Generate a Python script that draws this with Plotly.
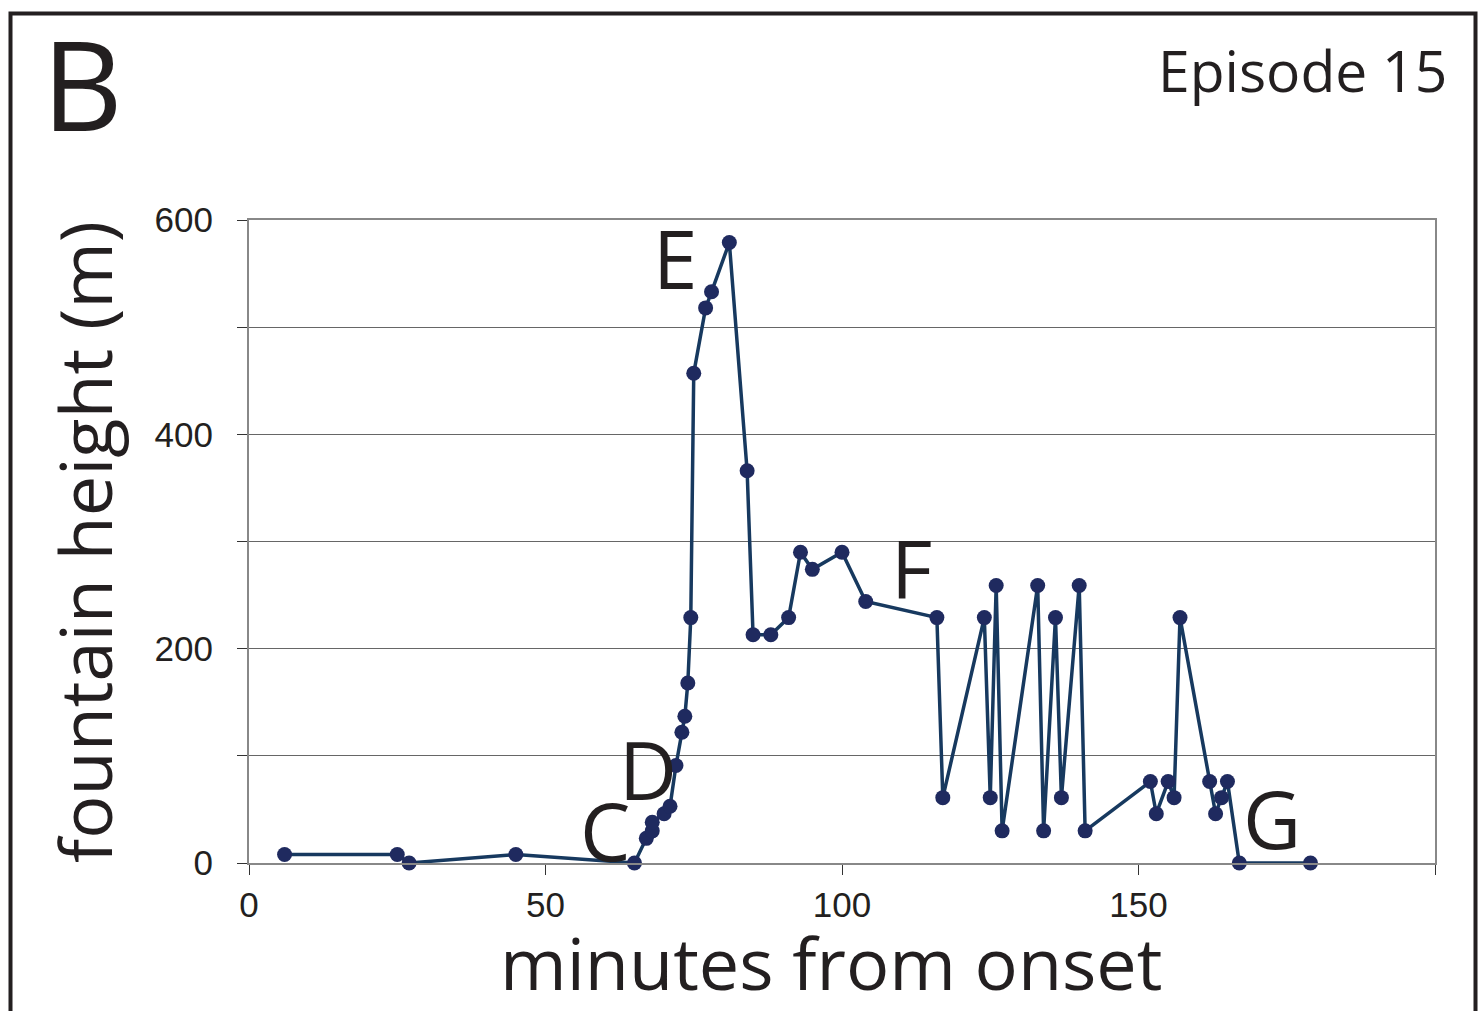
import plotly.graph_objects as go

minutes = [6, 25, 27, 45, 65, 67, 68, 68, 70, 71, 72, 73, 73.5, 74, 74.5, 75, 77, 78, 81,
           84, 85, 88, 91, 93, 95, 100, 104, 116, 117, 124, 125, 126, 127, 133, 134, 136,
           137, 140, 141, 152, 153, 155, 156, 157, 162, 163, 164, 165, 167, 179]
height_m = [8, 8, 0, 8, 0, 23, 30, 38, 46, 53, 91, 122, 137, 168, 229, 457, 518, 533, 579,
            366, 213, 213, 229, 290, 274, 290, 244, 229, 61, 229, 61, 259, 30, 259, 30, 229,
            61, 259, 30, 76, 46, 76, 61, 229, 76, 46, 61, 76, 0, 0]

x_ticks = [0, 50, 100, 150, 200]
x_ticklabels = ["0", "50", "100", "150", ""]
y_ticks = [0, 100, 200, 300, 400, 500, 600]
y_ticklabels = ["0", "", "200", "", "400", "", "600"]

phase_labels = ["C", "D", "E", "F", "G"]
phase_x = [60, 67.3, 71.8, 111.8, 172.5]
phase_y = [31, 88, 565, 276, 42]

# the page's body margin is removed by the post script below
W, H = 1480, 1011
# plot area in page pixels
L, R, T, B = 249, 1435, 220, 863


def px(xp):
    return (xp - L) / (R - L)


def py(yp):
    return (B - yp) / (B - T)


TXT = "#231f20"

fig = go.Figure()
fig.add_trace(go.Scatter(
    x=minutes, y=height_m, mode="lines+markers",
    line=dict(color="#17395f", width=3.5),
    marker=dict(color="#1f2a5f", size=15),
    showlegend=False, cliponaxis=False, hoverinfo="skip",
))

for lab, xv, yv in zip(phase_labels, phase_x, phase_y):
    fig.add_annotation(x=xv, y=yv, xref="x", yref="y", text=lab, showarrow=False,
                       font=dict(family="Open Sans", size=80, color=TXT),
                       xanchor="center", yanchor="middle")

# Panel letter and episode label
fig.add_annotation(x=px(40), y=py(-5), xref="paper", yref="paper", text="B", showarrow=False,
                   font=dict(family="Open Sans", size=125, color=TXT),
                   xanchor="left", yanchor="top")
fig.add_annotation(x=px(1449), y=py(29), xref="paper", yref="paper", text="Episode 15",
                   showarrow=False,
                   font=dict(family="Open Sans", size=57, color=TXT),
                   xanchor="right", yanchor="top")

# Axis titles
fig.add_annotation(x=px(84), y=py(542), xref="paper", yref="paper",
                   text="fountain height (m)", textangle=-90, showarrow=False,
                   font=dict(family="Open Sans", size=72, color=TXT),
                   xanchor="center", yanchor="middle")
fig.add_annotation(x=px(831), y=py(962), xref="paper", yref="paper",
                   text="minutes from onset", showarrow=False,
                   font=dict(family="Open Sans", size=72, color=TXT),
                   xanchor="center", yanchor="middle")

# Outer frame
fig.add_shape(type="rect", xref="paper", yref="paper",
              x0=px(10.5), x1=px(1475.5), y0=py(1040), y1=py(13.5),
              line=dict(color=TXT, width=4), layer="above")

fig.update_layout(
    width=W, height=H,
    margin=dict(l=L, r=W - R, t=T, b=H - B, pad=0),
    paper_bgcolor="white", plot_bgcolor="white",
    xaxis=dict(range=[0, 200], tickvals=x_ticks, ticktext=x_ticklabels,
               showgrid=False, zeroline=False,
               showline=True, linecolor="#888888", linewidth=2, mirror=True,
               ticks="outside", ticklen=10, tickcolor="#333333", tickwidth=1,
               tickfont=dict(family="Liberation Sans", size=35, color=TXT)),
    yaxis=dict(range=[0, 600], tickvals=y_ticks, ticktext=y_ticklabels,
               showgrid=True, gridcolor="#666666", gridwidth=1, zeroline=False,
               showline=True, linecolor="#888888", linewidth=2, mirror=True,
               ticks="outside", ticklen=10, tickcolor="#333333", tickwidth=1,
               ticklabelstandoff=17,
               tickfont=dict(family="Liberation Sans", size=35, color=TXT)),
)

fig.write_html(
    "out.html",
    config={"displayModeBar": False},
    post_script="document.body.style.margin='0';"
                "document.documentElement.style.overflow='hidden';"
                "document.body.style.overflow='hidden';",
)
